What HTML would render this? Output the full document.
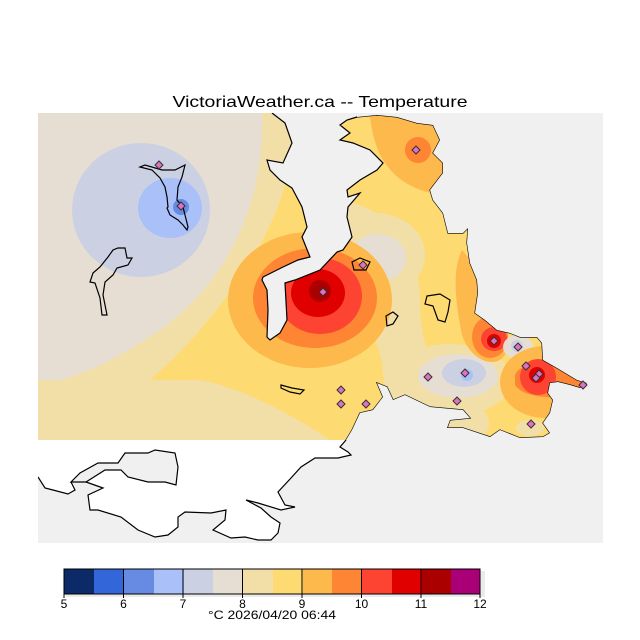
<!DOCTYPE html>
<html><head><meta charset="utf-8"><style>html,body{margin:0;padding:0;background:#fff}svg{display:block}</style></head>
<body>
<svg width="640" height="640" viewBox="0 0 640 640" xmlns="http://www.w3.org/2000/svg" font-family="Liberation Sans, sans-serif">
<defs><clipPath id="pc"><rect x="38" y="113" width="565" height="430"/></clipPath></defs>
<text x="320" y="107" font-size="16" text-anchor="middle" textLength="295" lengthAdjust="spacingAndGlyphs">VictoriaWeather.ca -- Temperature</text>
<g clip-path="url(#pc)">
<rect x="38" y="113" width="565" height="430" fill="#feda73"/>
<path d="M38,113 L300,113 C290,200 260,260 200,330 C140,400 80,430 38,440 Z" fill="#f2dfa8"/>
<path d="M38,113 L262,113 C265,200 230,280 160,330 C110,365 70,380 38,385 Z" fill="#e6ded2"/>
<path d="M38,380 L38,440 L330,440 C300,420 250,390 200,380 Z" fill="#f2dfa8"/>
<ellipse cx="330" cy="405" rx="30" ry="22" fill="#feda73"/>
<ellipse cx="141" cy="210" rx="69" ry="67" fill="#cbd0e3"/>
<ellipse cx="170" cy="208" rx="32" ry="30" fill="#aac0f8"/>
<circle cx="181" cy="207" r="8" fill="#678ae3"/>
<path d="M340,200 C400,210 420,260 420,300 C420,340 430,380 470,400 C500,415 490,440 470,440 L390,440 C380,400 390,360 370,330 C350,300 340,260 340,200 Z" fill="#f2dfa8"/>
<ellipse cx="375" cy="255" rx="50" ry="42" fill="#f2dfa8"/>
<ellipse cx="378" cy="258" rx="28" ry="24" fill="#e6ded2"/>
<circle cx="366" cy="262" r="7" fill="#cbd0e3"/>
<ellipse cx="310" cy="300" rx="82" ry="68" fill="#fdb94c"/>
<ellipse cx="315" cy="298" rx="62" ry="50" fill="#fd8533"/>
<ellipse cx="320" cy="296" rx="42" ry="38" fill="#fd4331"/>
<ellipse cx="318" cy="293" rx="27" ry="24" fill="#e00000"/>
<circle cx="320" cy="291" r="11" fill="#aa0000"/>
<path d="M370,113 L450,113 L450,195 C420,195 390,180 378,150 C372,135 370,120 370,113 Z" fill="#fdb94c"/>
<circle cx="418" cy="150" r="13" fill="#fd8533"/>
<ellipse cx="450" cy="380" rx="62" ry="36" fill="#f2dfa8"/>
<ellipse cx="458" cy="376" rx="40" ry="22" fill="#e6ded2"/>
<ellipse cx="464" cy="373" rx="22" ry="14" fill="#cbd0e3"/>
<circle cx="467" cy="375" r="6" fill="#aac0f8"/>
<path d="M462,250 C480,270 510,320 505,355 C495,370 470,360 462,335 C455,300 452,270 462,250 Z" fill="#fdb94c"/>
<ellipse cx="490" cy="337" rx="18" ry="21" fill="#fd8533"/>
<ellipse cx="494" cy="339" rx="13" ry="12" fill="#fd4331"/>
<circle cx="494" cy="341" r="7" fill="#e00000"/>
<ellipse cx="518" cy="347" rx="15" ry="12" fill="#e6ded2"/>
<circle cx="517" cy="346" r="6" fill="#cbd0e3"/>
<ellipse cx="545" cy="382" rx="45" ry="36" fill="#fdb94c"/>
<path d="M515,375 C520,360 560,358 590,380 L590,392 C565,400 525,400 515,385 Z" fill="#fd8533"/>
<circle cx="538" cy="377" r="18" fill="#fd4331"/>
<circle cx="537" cy="375" r="8" fill="#e00000"/>
<ellipse cx="530" cy="428" rx="14" ry="8" fill="#f2dfa8"/>
<rect x="38" y="440" width="565" height="103" fill="#f0f0f0"/>
<path d="M272,113 L285,123 L292,143 L283,163 L267,160 L270,170 L280,180 L292,188 L302,207 L307,227 L302,237 L310,257 L298,260 L283,267 L263,277 L262,280 L267,290 L268,310 L267,337 L270,340 L280,333 L287,320 L285,283 L295,280 L320,270 L337,252 L343,250 L352,237 L347,217 L348,207 L360,193 L348,197 L347,190 L360,180 L377,170 L383,163 L370,150 L353,143 L340,140 L350,133 L340,125 L347,120 L357,117 L357,113 Z" fill="#f0f0f0"/>
<path d="M272,113 L285,123 L292,143 L283,163 L267,160 L270,170 L280,180 L292,188 L302,207 L307,227 L302,237 L310,257 L298,260 L283,267 L263,277 L262,280 L267,290 L268,310 L267,337 L270,340 L280,333 L287,320 L285,283 L295,280 L320,270 L337,252 L343,250 L352,237 L347,217 L348,207 L360,193 L348,197 L347,190 L360,180 L377,170 L383,163 L370,150 L353,143 L340,140 L350,133 L340,125 L347,120 L357,117 L377,115 L397,117 L417,123 L433,125 L440,140 L433,153 L443,163 L443,173 L430,190 L433,200 L443,213 L448,233 L463,233 L468,228 L467,243 L470,263 L477,280 L478,293 L475,313 L485,320 L497,330 L510,333 L520,337 L537,337 L542,343 L543,360 L557,368 L577,380 L587,383 L580,388 L570,385 L558,382 L550,383 L548,393 L553,400 L550,413 L543,423 L550,433 L543,437 L520,438 L500,430 L490,437 L463,428 L447,428 L450,420 L470,418 L463,410 L430,407 L405,395 L393,400 L387,387 L377,383 L383,397 L373,410 L360,413 L352,430 L346,440" fill="none" stroke="#000" stroke-width="1.2"/>
<path d="M357,113 L357,117 L377,115 L397,117 L417,123 L433,125 L440,140 L433,153 L443,163 L443,173 L430,190 L433,200 L443,213 L448,233 L463,233 L468,228 L467,243 L470,263 L477,280 L478,293 L475,313 L485,320 L497,330 L510,333 L520,337 L537,337 L542,343 L543,360 L557,368 L577,380 L587,383 L580,388 L570,385 L558,382 L550,383 L548,393 L553,400 L550,413 L543,423 L550,433 L543,437 L520,438 L500,430 L490,437 L463,428 L447,428 L450,420 L470,418 L463,410 L430,407 L405,395 L393,400 L387,387 L377,383 L383,397 L373,410 L360,413 L352,430 L346,440 L346,543 L603,543 L603,113 Z" fill="#f0f0f0"/>
<path d="M38,440 L346,440 L340,447 L348,452 L351,455 L338,458 L315,458 L301,467 L291,478 L278,492 L285,505 L295,507 L281,510 L258,503 L246,500 L261,508 L271,517 L280,523 L278,533 L271,540 L258,540 L245,537 L231,538 L213,530 L225,520 L226,510 L211,513 L185,512 L178,517 L178,527 L168,535 L155,537 L138,530 L121,517 L98,510 L90,510 L88,495 L103,488 L86,482 L71,482 L75,490 L68,494 L53,490 L45,488 L38,477 Z" fill="#fff"/>
<path d="M346,440 L340,447 L348,452 L351,455 L338,458 L315,458 L301,467 L291,478 L278,492 L285,505 L295,507 L281,510 L258,503 L246,500 L261,508 L271,517 L280,523 L278,533 L271,540 L258,540 L245,537 L231,538 L213,530 L225,520 L226,510 L211,513 L185,512 L178,517 L178,527 L168,535 L155,537 L138,530 L121,517 L98,510 L90,510 L88,495 L103,488 L86,482 M71,482 L75,490 L68,494 L53,490 L45,488 L38,477" fill="none" stroke="#000" stroke-width="1.2"/>
<path d="M86,482 L105,470 L121,470 L128,477 L148,482 L165,482 L176,485 L178,467 L175,453 L155,450 L148,453 L125,453 L118,463 L98,463 L80,473 L71,482 Z" fill="#f0f0f0" stroke="#000" stroke-width="1.2"/>
<path d="M140,167 L152,170 L160,178 L165,187 L167,197 L168,207 L167,208 L170,215 L178,220 L183,225 L187,230 L188,227 L185,215 L183,207 L177,200 L178,187 L182,177 L185,165 L175,170 L162,170 L145,165 Z" fill="none" stroke="#000" stroke-width="1.2"/>
<path d="M118,248 L125,248 L127,258 L132,258 L128,265 L117,268 L113,275 L105,282 L103,295 L105,305 L107,315 L102,315 L100,298 L95,283 L90,282 L93,273 L100,267 L108,257 L113,250 Z" fill="none" stroke="#000" stroke-width="1.2"/>
<path d="M427,296 L440,294 L450,300 L448,312 L445,322 L438,320 L433,306 L425,304 Z" fill="none" stroke="#000" stroke-width="1.2"/>
<path d="M386,316 L393,312 L398,316 L393,324 L387,326 Z" fill="none" stroke="#000" stroke-width="1.2"/>
<path d="M281,385 L292,388 L304,390 L300,394 L290,392 L281,388 Z" fill="none" stroke="#000" stroke-width="1.2"/>
<path d="M352,262 L360,258 L370,262 L366,270 L354,270 Z" fill="none" stroke="#000" stroke-width="1.2"/>
</g>
<g fill="#e070c0" stroke="#333" stroke-width="1">
<path d="M159,161 l4,4 l-4,4 l-4,-4z"/><path d="M181,202 l4,4 l-4,4 l-4,-4z"/>
<path d="M323,288 l4,4 l-4,4 l-4,-4z"/><path d="M363,261 l4,4 l-4,4 l-4,-4z"/>
<path d="M416,146 l4,4 l-4,4 l-4,-4z"/><path d="M341,386 l4,4 l-4,4 l-4,-4z"/>
<path d="M341,400 l4,4 l-4,4 l-4,-4z"/><path d="M366,400 l4,4 l-4,4 l-4,-4z"/>
<path d="M428,373 l4,4 l-4,4 l-4,-4z"/><path d="M465,369 l4,4 l-4,4 l-4,-4z"/>
<path d="M494,337 l4,4 l-4,4 l-4,-4z"/><path d="M518,343 l4,4 l-4,4 l-4,-4z"/>
<path d="M526,362 l4,4 l-4,4 l-4,-4z"/><path d="M539,370 l4,4 l-4,4 l-4,-4z"/>
<path d="M536,374 l4,4 l-4,4 l-4,-4z"/><path d="M457,397 l4,4 l-4,4 l-4,-4z"/>
<path d="M531,420 l4,4 l-4,4 l-4,-4z"/><path d="M583,381 l4,4 l-4,4 l-4,-4z"/>
</g>
<rect x="66" y="571" width="419" height="26" fill="#ebebeb"/>
<g stroke="none">
<rect x="64" y="569" width="30" height="25" fill="#0d2a68"/>
<rect x="94" y="569" width="30" height="25" fill="#3366d8"/>
<rect x="124" y="569" width="30" height="25" fill="#678ae3"/>
<rect x="154" y="569" width="30" height="25" fill="#aac0f8"/>
<rect x="184" y="569" width="29" height="25" fill="#cbd0e3"/>
<rect x="213" y="569" width="30" height="25" fill="#e6ded2"/>
<rect x="243" y="569" width="30" height="25" fill="#f2dfa8"/>
<rect x="273" y="569" width="30" height="25" fill="#feda73"/>
<rect x="303" y="569" width="29" height="25" fill="#fdb94c"/>
<rect x="332" y="569" width="30" height="25" fill="#fd8533"/>
<rect x="362" y="569" width="30" height="25" fill="#fd4331"/>
<rect x="392" y="569" width="30" height="25" fill="#e00000"/>
<rect x="422" y="569" width="29" height="25" fill="#aa0000"/>
<rect x="451" y="569" width="29" height="25" fill="#aa0077"/>
</g>
<rect x="64" y="569" width="416" height="25" fill="none" stroke="#000" stroke-width="1"/>
<g stroke="#000" stroke-width="1">
<line x1="64" y1="569" x2="64" y2="598"/><line x1="123.5" y1="569" x2="123.5" y2="598"/>
<line x1="183" y1="569" x2="183" y2="598"/><line x1="242.5" y1="569" x2="242.5" y2="598"/>
<line x1="302" y1="569" x2="302" y2="598"/><line x1="361.5" y1="569" x2="361.5" y2="598"/>
<line x1="421" y1="569" x2="421" y2="598"/><line x1="480" y1="569" x2="480" y2="598"/>
</g>
<g font-size="12" text-anchor="middle">
<text x="64" y="608">5</text><text x="123.5" y="608">6</text><text x="183" y="608">7</text>
<text x="242.5" y="608">8</text><text x="302" y="608">9</text><text x="361.5" y="608">10</text>
<text x="421" y="608">11</text><text x="480" y="608">12</text>
<text x="272" y="619" font-size="12" textLength="128" lengthAdjust="spacingAndGlyphs">°C  2026/04/20 06:44</text>
</g>
</svg>
</body></html>
